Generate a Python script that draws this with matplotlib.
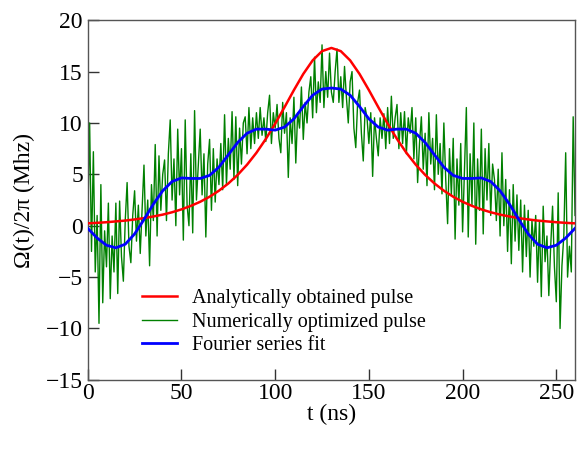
import matplotlib
matplotlib.use("Agg")
import matplotlib.pyplot as plt

# ----------------------------------------------------------------------
# Data
# ----------------------------------------------------------------------

# analytically obtained pulse, every 5 ns
t_red = list(range(0, 261, 5))
red = [0.23, 0.28, 0.34, 0.42, 0.50, 0.61, 0.74, 0.90, 1.08, 1.31,
       1.59, 1.93, 2.33, 2.82, 3.41, 4.11, 4.95, 5.94, 7.10, 8.44,
       9.93, 11.54, 13.20, 14.77, 16.09, 16.99, 17.30,
       16.99, 16.09, 14.77, 13.20, 11.54, 9.93, 8.44, 7.10, 5.94,
       4.95, 4.11, 3.41, 2.82, 2.33, 1.93, 1.59, 1.31, 1.08, 0.90,
       0.74, 0.61, 0.50, 0.42, 0.34, 0.28, 0.23]

# Fourier series fit, every 5 ns
t_blue = list(range(0, 261, 5))
blue = [-0.25, -1.2, -1.9, -2.15, -1.8, -0.8, 0.6, 2.1, 3.4, 4.3,
        4.65, 4.6, 4.6, 4.9, 5.7, 6.9, 8.1, 9.0, 9.4, 9.4,
        9.3, 9.6, 10.4, 11.6, 12.7, 13.3, 13.4,
        13.3, 12.7, 11.6, 10.4, 9.6, 9.3, 9.4, 9.4, 9.0,
        8.1, 6.9, 5.7, 4.9, 4.6, 4.6, 4.65, 4.3, 3.4, 2.1,
        0.6, -0.8, -1.8, -2.15, -1.9, -1.2, -0.25]

# numerically optimized pulse, every 1 ns
t_green = list(range(0, 261))
green = [
    0.5, 10.0, -2.5, 7.2, -4.5, 1.0, -9.5, 4.0, -7.5, -0.5,      # 0-9
    -4.0, 2.2, -7.1, -1.0, -4.5, 2.2, -6.6, 2.4, -3.0, -5.4,     # 10-19
    0.5, 4.2, -2.0, -3.6, 1.0, 3.4, -1.5, 2.0, -2.7, 1.5,        # 20-29
    5.9, -1.0, 2.5, -3.9, 4.0, 0.5, 7.9, -1.0, 6.8, 1.5,         # 30-39
    5.0, 6.4, 0.5, 7.0, 10.3, 2.5, 6.5, 0.0, 9.4, 3.0,           # 40-49
    7.5, -1.4, 10.3, 2.0, 0.0, 7.0, -0.7, 11.2, 2.5, 6.0,        # 50-59
    9.4, 3.0, 7.0, -1.1, 6.0, 8.4, 1.5, 7.5, 2.3, 6.5,           # 60-69
    4.0, 8.0, 3.5, 10.8, 4.0, 8.5, 5.5, 11.1, 4.5, 10.6,         # 70-79
    3.9, 9.5, 6.0, 10.0, 10.6, 7.0, 11.5, 7.5, 10.5, 8.0,        # 80-89
    11.0, 8.5, 11.5, 8.8, 10.5, 8.2, 11.0, 12.7, 8.0, 11.0,      # 90-99
    9.5, 11.8, 8.5, 7.1, 12.0, 9.0, 11.0, 4.7, 10.5, 8.0,        # 100-109
    12.5, 6.1, 11.0, 9.5, 13.5, 8.4, 12.0, 10.0, 13.0, 14.5,     # 110-119
    10.5, 16.4, 11.0, 14.0, 12.0, 17.6, 11.5, 15.0, 12.5, 16.8,  # 120-129
    13.0, 12.0, 15.0, 17.2, 12.0, 14.5, 11.5, 15.5, 12.5, 10.0,  # 130-139
    14.0, 15.0, 9.5, 7.6, 12.0, 13.2, 9.0, 6.3, 11.5, 10.5,      # 140-149
    8.0, 11.0, 4.8, 10.5, 8.5, 6.8, 10.5, 8.5, 10.9, 7.5,        # 150-159
    11.5, 8.0, 12.6, 8.5, 10.5, 11.8, 7.5, 11.0, 8.0, 11.1,      # 160-169
    7.0, 10.5, 9.0, 11.5, 6.5, 10.5, 4.2, 8.0, 10.6, 5.5,        # 170-179
    9.0, 3.9, 11.0, 6.0, 8.5, 3.5, 10.8, 5.0, 8.0, 3.1,          # 180-189
    10.0, 4.5, 0.2, 7.5, 3.0, 8.5, -1.3, 6.5, 2.0, 8.0,          # 190-199
    -0.6, 5.5, 11.5, -1.1, 7.0, 2.0, 10.0, -1.8, 6.5, 1.5,       # 200-209
    9.4, -0.8, 7.5, 2.5, 8.0, 1.0, 6.0, 4.5, 0.5, 5.5,           # 210-219
    -1.0, 7.1, 0.0, 4.5, -2.5, 3.5, -3.7, 4.0, -1.5, 3.0,        # 220-229
    -2.4, 2.5, -4.5, 2.0, -3.0, 1.5, -5.0, 0.5, -2.0, 1.0,       # 230-239
    -5.5, 0.5, -6.9, 1.9, -3.5, -1.0, -6.8, -2.0, 1.9, -4.0,     # 240-249
    -7.4, 3.2, -10.0, -3.9, -1.0, 7.1, -5.0, -2.0, -4.5, 10.6,   # 250-259
    1.0,                                                          # 260
]

labels = ["Analytically obtained pulse", "Numerically optimized pulse", "Fourier series fit"]

# ----------------------------------------------------------------------
# Figure
# ----------------------------------------------------------------------

plt.rcParams["font.family"] = ["Liberation Serif", "DejaVu Serif"]
plt.rcParams["mathtext.fontset"] = "stix"

fig = plt.figure(figsize=(5.85, 4.49), dpi=100)
ax = fig.add_axes([0.150, 0.154, 0.833, 0.801])

ax.plot(t_red, red, color="red", lw=1.8, label=labels[0], zorder=3)
ax.plot(t_green, green, color="green", lw=1.0, label=labels[1], zorder=2)
ax.plot(t_blue, blue, color="blue", lw=2.0, label=labels[2], zorder=4)

ax.set_xlim(0, 260)
ax.set_ylim(-15, 20)
ax.set_xticks([0, 50, 100, 150, 200, 250])
ax.set_yticks([-15, -10, -5, 0, 5, 10, 15, 20])
ax.tick_params(direction="in", length=8, width=1, labelsize=17, color="#333333")
ax.tick_params(axis="x", pad=2)
for sp in ax.spines.values():
    sp.set_color("#555555")
    sp.set_linewidth(1.0)

ax.set_xlabel("t (ns)", fontsize=17, labelpad=0)
ax.set_ylabel("Ω(t)/2π (Mhz)", fontsize=17, labelpad=8)

ax.legend(loc="upper left", bbox_to_anchor=(0.095, 0.275), frameon=False,
          fontsize=14.5, handlelength=1.75, handletextpad=0.75,
          labelspacing=0.22, borderaxespad=0)

fig.savefig("out.png", dpi=100)
